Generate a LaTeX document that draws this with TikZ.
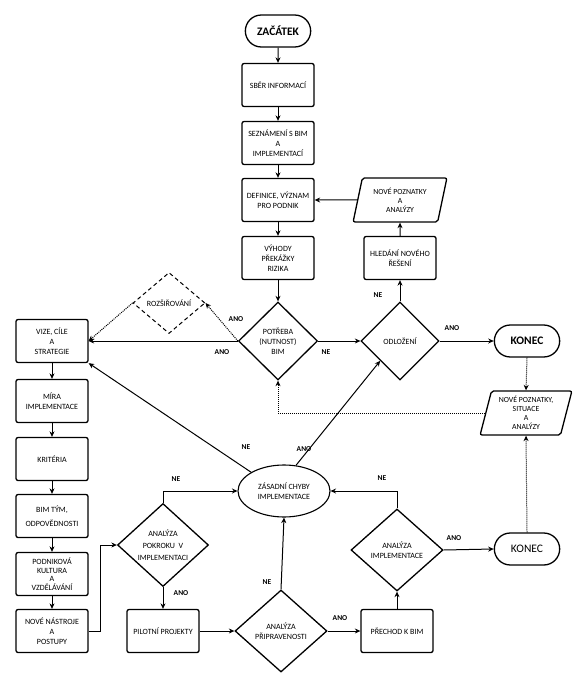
\documentclass[tikz,border=0pt]{standalone}
\usepackage{fontspec}
\setmainfont{Carlito}
\usetikzlibrary{shapes.geometric,shapes.misc,arrows.meta}

\tikzset{
	krok/.style={draw, rounded corners=2pt, line width=1.3pt, minimum width=72pt, minimum height=43pt, align=center, inner sep=1pt, font=\fontsize{8}{10}\selectfont},
	konec/.style={draw, rounded rectangle, line width=1.3pt, minimum width=72pt, minimum height=32pt, font=\fontsize{11.5}{13}\selectfont},
	otazka/.style={draw, diamond, line width=1.3pt, inner sep=0pt, align=center, font=\fontsize{8}{10}\selectfont},
	vstup/.style={draw, trapezium, trapezium left angle=75, trapezium right angle=105, trapezium stretches=true, rounded corners=2pt, line width=1.3pt, minimum width=94pt, minimum height=44pt, inner sep=0pt, align=center, font=\fontsize{7.8}{9}\selectfont},
	popis/.style={font=\bfseries\fontsize{7.5}{8}\selectfont, inner sep=0pt},
	sipka/.style={-{Stealth[length=5.5pt,width=5pt]}, line width=1pt},
	tecky/.style={sipka, densely dotted}
}

\begin{document}
\begin{tikzpicture}[x=1pt, y=-1pt]
	\useasboundingbox (0,0) rectangle (580,684);

	% hlavni sloupec
	\node[konec, font=\bfseries\fontsize{11.5}{13}\selectfont] (zacatek) at (278,31) {ZAČÁTEK};
	\node[krok] (sber) at (278,85) {SBĚR INFORMACÍ};
	\node[krok] (seznameni) at (278,143) {SEZNÁMENÍ S BIM\\A\\IMPLEMENTACÍ};
	\node[krok] (definice) at (278,200) {DEFINICE, VÝZNAM\\PRO PODNIK};
	\node[krok] (vyhody) at (278,258) {VÝHODY\\PŘEKÁŽKY\\RIZIKA};
	\node[otazka, minimum width=79pt, minimum height=78pt] (potreba) at (278,341) {POTŘEBA\\(NUTNOST)\\BIM};
	\node[otazka, dashed, dash pattern=on 4pt off 3pt, line width=1pt, minimum width=72pt, minimum height=61pt] (rozsir) at (169,303) {ROZŠIŘOVÁNÍ};

	% pravá část
	\node[otazka, minimum width=78pt, minimum height=78pt] (odlozeni) at (400,341) {ODLOŽENÍ};
	\node[krok] (hledani) at (400,258) {HLEDÁNÍ NOVÉHO\\ŘEŠENÍ};
	\node[vstup] (poznatky) at (400,200) {NOVÉ POZNATKY\\A\\ANALÝZY};
	\node[konec, font=\bfseries\fontsize{11.5}{13}\selectfont] (konecA) at (527,341) {KONEC};
	\node[vstup, minimum width=92pt] (situace) at (526,413) {NOVÉ POZNATKY,\\SITUACE\\A\\ANALÝZY};

	% levý sloupec
	\node[krok] (vize) at (52,341) {VIZE, CÍLE\\A\\STRATEGIE};
	\node[krok] (mira) at (52,401) {MÍRA\\IMPLEMENTACE};
	\node[krok] (kriteria) at (52,459) {KRITÉRIA};
	\node[krok] (tym) at (52,516) {BIM TÝM,\\[4pt]ODPOVĚDNOSTI};
	\node[krok, font=\fontsize{8}{8.5}\selectfont] (kultura) at (52,574) {PODNIKOVÁ\\KULTURA\\A\\VZDĚLÁVÁNÍ};
	\node[krok] (nastroje) at (52,631) {NOVÉ NÁSTROJE\\A\\POSTUPY};

	% spodní část
	\node[otazka, minimum width=91pt, minimum height=83pt, font=\fontsize{8}{12}\selectfont] (pokrok) at (163,545) {ANALÝZA\\POKROKU~~V\\IMPLEMENTACI};
	\node[krok] (pilot) at (163,631) {PILOTNÍ PROJEKTY};
	\node[draw, ellipse, line width=1.1pt, minimum width=92pt, minimum height=52pt, align=center, font=\fontsize{8}{10}\selectfont] (chyby) at (284,491) {ZÁSADNÍ CHYBY\\IMPLEMENTACE};
	\node[otazka, minimum width=92pt, minimum height=82pt] (pripr) at (281,631) {ANALÝZA\\PŘIPRAVENOSTI};
	\node[krok] (prechod) at (397,631) {PŘECHOD K BIM};
	\node[otazka, minimum width=92pt, minimum height=82pt] (analyza) at (397,550) {ANALÝZA\\IMPLEMENTACE};
	\node[konec] (konecB) at (527,549) {KONEC};

	% spojnice
	\draw[sipka] (zacatek) -- (sber);
	\draw[sipka] (sber) -- (seznameni);
	\draw[sipka] (seznameni) -- (definice);
	\draw[sipka] (definice) -- (vyhody);
	\draw[sipka] (vyhody) -- (potreba);
	\draw[sipka] (potreba.west) -- (vize.east);
	\draw[tecky] (potreba.west) -- (rozsir.east);
	\draw[tecky] (rozsir.west) -- (vize.east);
	\draw[sipka] (potreba.east) -- (odlozeni.west);
	\draw[sipka] (odlozeni.north) -- (hledani.south);
	\draw[sipka] (hledani.north) -- (poznatky.south);
	\draw[sipka] (poznatky.west) -- (definice.east);
	\draw[sipka] (odlozeni.east) -- (konecA.west);
	\draw[tecky] (konecA.south) -- (situace.north);
	\draw[tecky] (situace.west) -| (potreba.south);
	\draw[tecky] (konecB.north) -- (situace.south);

	\draw[sipka] (vize) -- (mira);
	\draw[sipka] (mira) -- (kriteria);
	\draw[sipka] (kriteria) -- (tym);
	\draw[sipka] (tym) -- (kultura);
	\draw[sipka] (kultura) -- (nastroje);
	\draw[sipka] (nastroje.east) -- ++(12,0) |- (pokrok.west);

	\draw[sipka] (pokrok.north) |- (chyby.west);
	\draw[sipka] (pokrok.south) -- (pilot.north);
	\draw[sipka] (pilot.east) -- (pripr.west);
	\draw[sipka] (pripr.north) -- (chyby.south);
	\draw[sipka] (pripr.east) -- (prechod.west);
	\draw[sipka] (prechod.north) -- (analyza.south);
	\draw[sipka] (analyza.north) |- (chyby.east);
	\draw[sipka] (analyza.east) -- (konecB.west);
	\draw[sipka] (chyby.north west) -- (vize.south east);
	\draw[sipka] (chyby.65) -- (odlozeni.south west);

	% popisky
	\node[popis] (p1) at (236,319) {ANO};
	\node[popis] (p2) at (222,352) {ANO};
	\node[popis] (p3) at (326,352) {NE};
	\node[popis] (p4) at (378,295) {NE};
	\node[popis] (p5) at (452,328) {ANO};
	\node[popis] (p6) at (246,447) {NE};
	\node[popis] (p7) at (304,449) {ANO};
	\node[popis] (p8) at (176,479) {NE};
	\node[popis] (p9) at (382,478) {NE};
	\node[popis] (p10) at (181,593) {ANO};
	\node[popis] (p11) at (267,582) {NE};
	\node[popis] (p12) at (340,618) {ANO};
	\node[popis] (p13) at (454,538) {ANO};
\end{tikzpicture}
\end{document}
